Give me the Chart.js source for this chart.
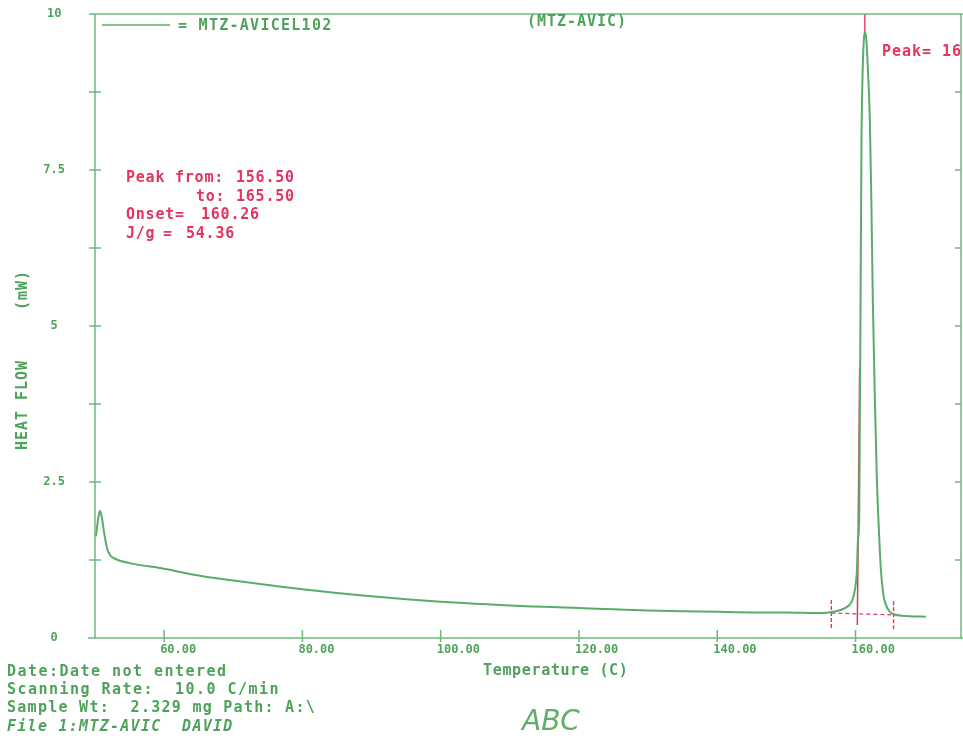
<!DOCTYPE html>
<html><head><meta charset="utf-8">
<script src="https://cdn.jsdelivr.net/npm/chart.js@4.4.1/dist/chart.umd.min.js"></script>
<style>html,body{margin:0;padding:0;background:#fff;overflow:hidden}</style>
</head><body>
<canvas id="c" width="963" height="740"></canvas>
<script>
// ---- data ----
const temperatureC = [50.14,50.43,50.72,51.01,51.30,51.74,52.17,52.89,55.0,60,65,70,75,80,85,90,95,100,105,110,115,120,125,130,135,140,145,150,155,156.73,158.46,159.43,159.91,160.20,160.35,160.53,160.60,160.73,160.85,161.0,161.2,161.35,161.57,161.86,162.07,162.29,162.5,162.8,163.09,163.38,163.67,164.03,164.39,164.97,165.54,167.86,170.17];
const heatFlowMW   = [1.63,1.89,2.04,1.92,1.70,1.44,1.33,1.27,1.20,1.11,1.00,0.92,0.85,0.78,0.72,0.67,0.62,0.58,0.55,0.52,0.50,0.48,0.46,0.44,0.43,0.42,0.41,0.41,0.40,0.42,0.48,0.58,0.77,1.09,1.57,1.89,3.00,5.42,7.82,8.94,9.58,9.71,9.58,8.94,8.30,7.02,5.42,3.81,2.53,1.73,1.09,0.69,0.53,0.42,0.38,0.35,0.34];
const xTickValues = [60,80,100,120,140,160];
const xTickLabels = ['60.00','80.00','100.00','120.00','140.00','160.00'];
const yTickValues = [0,1.25,2.5,3.75,5,6.25,7.5,8.75,10];
const yTickLabels = ['0','','2.5','','5','','7.5','','10'];
const peakFrom = 156.50, peakTo = 165.50, onsetTemp = 160.26, energyJg = 54.36, peakTemp = 161.35;
const peakMarkerLow = [0.16, 0.61];      // vertical extent of start/end markers (mW)
const baselineFlow = [0.40, 0.37];       // integration baseline at peakFrom / peakTo
const onsetLine = [[160.60, 4.34],[onsetTemp, 0.21]];
const peakTop = [9.72, 10];
const sampleName = 'MTZ-AVICEL102', runName = '(MTZ-AVIC)';

const GREEN_TXT = '#4fa25c', GREEN_AX = '#6cba78', GREEN_LN = '#5aad68', RED = '#e4345f';

const mainData = temperatureC.map((t,i)=>({x:t,y:heatFlowMW[i]}));
const markerData = [
  {x:peakFrom,y:peakMarkerLow[0]},{x:peakFrom,y:peakMarkerLow[1]},{x:NaN,y:null},
  {x:peakTo,y:peakMarkerLow[0]-0.02},{x:peakTo,y:peakMarkerLow[1]-0.01}
];
const baseData = [{x:peakFrom,y:baselineFlow[0]},{x:peakTo,y:baselineFlow[1]}];
const onsetData = onsetLine.map(p=>({x:p[0],y:p[1]}));
const peakData = [{x:peakTemp,y:peakTop[0]},{x:peakTemp,y:peakTop[1]}];

function txt(ctx, s, x, y, o) {
  o = o || {};
  const size = o.size || 15;
  ctx.save();
  ctx.font = (o.italic ? 'italic ' : '') + (o.weight || 'bold') + ' ' + size + 'px ' + (o.family || '"DejaVu Sans Mono"');
  ctx.fillStyle = o.color || GREEN_TXT;
  ctx.textBaseline = 'middle';
  ctx.textAlign = 'left';
  if (o.pitch) ctx.letterSpacing = (o.pitch - size*0.602).toFixed(2) + 'px';
  if (o.rotate) { ctx.translate(x,y); ctx.rotate(o.rotate); ctx.fillText(s,0,0); }
  else ctx.fillText(s, x, y);
  ctx.restore();
}

const decor = {
  id: 'decor',
  afterDraw(chart) {
    const {ctx, chartArea: a, scales: {x, y}} = chart;
    ctx.save();
    ctx.strokeStyle = GREEN_AX; ctx.lineWidth = 1.5;
    ctx.beginPath();
    ctx.moveTo(a.left-5, a.top); ctx.lineTo(a.right+2, a.top);        // top frame
    ctx.moveTo(a.left, a.top); ctx.lineTo(a.left, a.bottom);          // left axis
    ctx.moveTo(a.left-7, a.bottom); ctx.lineTo(a.right+2, a.bottom);  // bottom axis
    ctx.moveTo(a.right-1, a.top); ctx.lineTo(a.right-1, a.bottom);    // right frame
    yTickValues.forEach(v=>{ const py=y.getPixelForValue(v);
      ctx.moveTo(a.left-6, py); ctx.lineTo(a.left+6, py);
      ctx.moveTo(a.right-7, py); ctx.lineTo(a.right-1, py); });
    xTickValues.forEach(v=>{ const px=x.getPixelForValue(v);
      ctx.moveTo(px, a.bottom-8); ctx.lineTo(px, a.bottom+4); });
    ctx.stroke();
    // legend
    ctx.strokeStyle = GREEN_LN; ctx.lineWidth = 1.6;
    ctx.beginPath(); ctx.moveTo(102, 25); ctx.lineTo(170, 25); ctx.stroke();
    ctx.restore();
    txt(ctx, '= ' + sampleName, 178, 26, {pitch:10.3});
    txt(ctx, runName, 527, 22, {pitch:10});
    txt(ctx, 'Peak= ' + peakTemp.toFixed(2), 882, 52, {pitch:10, color:RED});
    // red annotation
    const r = {pitch:9.8, color:RED};
    txt(ctx, 'Peak from:', 126, 178.5, r);  txt(ctx, peakFrom.toFixed(2), 236, 178.5, r);
    txt(ctx, 'to:', 196, 197, r);          txt(ctx, peakTo.toFixed(2), 236, 197, r);
    txt(ctx, 'Onset=', 126, 215, r);       txt(ctx, onsetTemp.toFixed(2), 201, 215, r);
    txt(ctx, 'J/g', 126, 234, r); txt(ctx, '=', 163, 234, r); txt(ctx, energyJg.toFixed(2), 186, 234, r);
    // axis titles
    txt(ctx, 'Temperature (C)', 483, 671, {pitch:9.7});
    txt(ctx, 'HEAT FLOW     (mW)', 23, 450, {pitch:10, rotate:-Math.PI/2});
    // footer
    txt(ctx, 'Date:Date not entered', 7, 672, {pitch:10.5});
    txt(ctx, 'Scanning Rate:  10.0 C/min', 7, 690, {pitch:10.5});
    txt(ctx, 'Sample Wt:  2.329 mg Path: A:\\', 7, 708, {pitch:10.3});
    txt(ctx, 'File 1:MTZ-AVIC  DAVID', 7, 727, {pitch:10.3, italic:true});
    txt(ctx, 'ABC', 522, 723, {size:28, weight:'200', italic:true, family:'"DejaVu Sans"', color:'#5fae6a'});
  }
};

function zeroPad(s) { s.paddingTop = 0; s.paddingBottom = 0; s.paddingLeft = 0; s.paddingRight = 0; }

new Chart(document.getElementById('c'), {
  type: 'line',
  data: { datasets: [
    {data: mainData, borderColor: GREEN_LN, borderWidth: 2, pointRadius: 0, cubicInterpolationMode: 'monotone', fill: false},
    {data: markerData, borderColor: RED, borderWidth: 1.4, borderDash: [4,2], pointRadius: 0, spanGaps: false, fill:false},
    {data: baseData, borderColor: RED, borderWidth: 1.2, borderDash: [4,3], pointRadius: 0, fill:false},
    {data: onsetData, borderColor: 'rgba(175,40,60,0.85)', borderWidth: 1.5, pointRadius: 0, fill:false},
    {data: peakData, borderColor: RED, borderWidth: 1.4, pointRadius: 0, fill:false}
  ]},
  options: {
    responsive: false, animation: false, devicePixelRatio: 1,
    layout: { padding: {top: 14, right: 1, left: 0, bottom: 0} },
    plugins: { legend: {display: false}, tooltip: {enabled: false} },
    elements: { line: { tension: 0 } },
    scales: {
      x: { type: 'linear', min: 50, max: 175.4,
        afterFit: s => { s.height = 102; zeroPad(s); },
        afterBuildTicks: s => { s.ticks = xTickValues.map(v=>({value:v})); },
        grid: {display: true, drawOnChartArea: false, drawTicks: false},
        border: {display: false},
        ticks: { align: 'start', labelOffset: -4, padding: 5, autoSkip: false, maxRotation: 0,
          color: GREEN_TXT, font: {family: '"DejaVu Sans Mono"', size: 12, weight: 'bold'},
          callback: (v) => { const i = xTickValues.indexOf(v); return i >= 0 ? xTickLabels[i] : ''; } }
      },
      y: { type: 'linear', min: 0, max: 10,
        afterFit: s => { s.width = 95; zeroPad(s); },
        afterBuildTicks: s => { s.ticks = yTickValues.map(v=>({value:v})); },
        grid: {display: true, drawOnChartArea: false, drawTicks: false},
        border: {display: false},
        ticks: { crossAlign: 'center', padding: 30, autoSkip: false,
          color: GREEN_TXT, font: {family: '"DejaVu Sans Mono"', size: 12, weight: 'bold'},
          callback: (v) => { const i = yTickValues.indexOf(v); return i >= 0 ? yTickLabels[i] : ''; } }
      }
    }
  },
  plugins: [decor]
});
</script>
</body></html>
